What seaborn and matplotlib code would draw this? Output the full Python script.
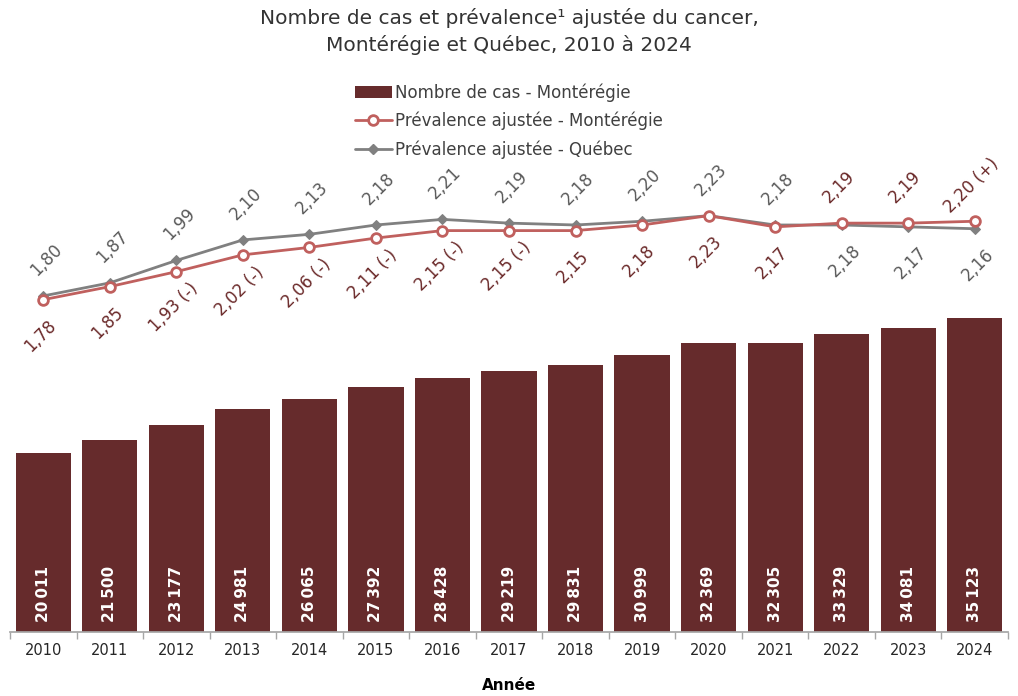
import numpy as np
import pandas as pd
import matplotlib.pyplot as plt
import seaborn as sns
from matplotlib.patches import Patch
from matplotlib.lines import Line2D

# data
annees = ["2010", "2011", "2012", "2013", "2014", "2015", "2016", "2017",
          "2018", "2019", "2020", "2021", "2022", "2023", "2024"]
nb_cas = [20011, 21500, 23177, 24981, 26065, 27392, 28428, 29219,
          29831, 30999, 32369, 32305, 33329, 34081, 35123]
prev_monteregie = [1.78, 1.85, 1.93, 2.02, 2.06, 2.11, 2.15, 2.15,
                   2.15, 2.18, 2.23, 2.17, 2.19, 2.19, 2.20]
signif_monteregie = ["", "", " (-)", " (-)", " (-)", " (-)", " (-)", " (-)",
                     "", "", "", "", "", "", " (+)"]
prev_quebec = [1.80, 1.87, 1.99, 2.10, 2.13, 2.18, 2.21, 2.19,
               2.18, 2.20, 2.23, 2.18, 2.18, 2.17, 2.16]

df = pd.DataFrame({"annee": annees, "cas": nb_cas,
                   "mont": prev_monteregie, "qc": prev_quebec})
df["pos"] = np.arange(len(df))

bar_color = "#662B2C"
mont_color = "#C0605E"
mont_text = "#6B2A2A"
qc_color = "#808080"
qc_text = "#5A5A5A"

sns.set_theme(style="white")
plt.rcParams["font.family"] = ["DejaVu Sans"]

fig = plt.figure(figsize=(10.18, 6.96), dpi=100)
W, H = 1018, 696
ax = fig.add_axes([10 / W, (H - 632) / H, 998 / W, (632 - 40) / H])

sns.barplot(data=df, x="annee", y="cas", color=bar_color, width=0.83,
            saturation=1, ax=ax, edgecolor="none")
ax.set_xlim(-0.5, len(df) - 0.5)
ax.set_ylim(0, 592 / 0.008934)

def fmt_int(v):
    return f"{v:,}".replace(",", "\u2009")

for i, v in enumerate(nb_cas):
    ax.annotate(fmt_int(v), xy=(i, 0), xytext=(0, 7), textcoords="offset points",
                rotation=90, ha="center", va="bottom", color="white",
                fontsize=11, fontweight="bold")

ax2 = ax.twinx()
ax2.set_ylim(0, 592 / 186.7)
sns.lineplot(data=df, x="pos", y="qc", color=qc_color, marker="D",
             markersize=5, markeredgecolor=qc_color, linewidth=2, ax=ax2)
sns.lineplot(data=df, x="pos", y="mont", color=mont_color, marker="o",
             markersize=7, markerfacecolor="white", markeredgecolor=mont_color,
             markeredgewidth=2, linewidth=2, ax=ax2)
ax2.set_xlim(-0.5, len(df) - 0.5)

def fmt_dec(v):
    return f"{v:.2f}".replace(".", ",")

off = 26
for i in range(len(df)):
    q, m = prev_quebec[i], prev_monteregie[i]
    if m > q:
        m_dy, q_dy = off, -off
    else:
        m_dy, q_dy = -off, off
    ax2.annotate(fmt_dec(q), xy=(i, q), xytext=(2, q_dy), textcoords="offset points",
                 rotation=45, rotation_mode="anchor", ha="center", va="center",
                 color=qc_text, fontsize=12)
    ax2.annotate(fmt_dec(m) + signif_monteregie[i], xy=(i, m), xytext=(-2, m_dy),
                 textcoords="offset points", rotation=45, rotation_mode="anchor",
                 ha="center", va="center", color=mont_text, fontsize=12)

for a in (ax, ax2):
    a.set_yticks([])
    a.set_ylabel("")
    for s in ["top", "right", "left"]:
        a.spines[s].set_visible(False)
ax2.spines["bottom"].set_visible(False)
ax2.set_xlabel("")
ax.spines["bottom"].set_color("#A6A6A6")

ax.set_xticks(np.arange(len(df)))
ax.set_xticklabels(annees, fontsize=10.5, color="#262626")
ax.set_xticks(np.arange(len(df) + 1) - 0.5, minor=True)
ax.tick_params(axis="x", which="major", length=0, pad=8)
ax.tick_params(axis="x", which="minor", length=5, color="#A6A6A6",
               direction="out", bottom=True)
ax.set_xlabel("Année", fontsize=11, fontweight="bold", color="black", labelpad=14)

fig.text(0.5, 1 - 18 / H, "Nombre de cas et prévalence\u00b9 ajustée du cancer,",
         ha="center", va="center", fontsize=14.5, color="#333333")
fig.text(0.5, 1 - 45 / H, "Montérégie et Québec, 2010 à 2024",
         ha="center", va="center", fontsize=14.5, color="#333333")

handles = [
    Patch(facecolor=bar_color, edgecolor="none"),
    Line2D([], [], color=mont_color, lw=2, marker="o", markersize=7,
           markerfacecolor="white", markeredgecolor=mont_color, markeredgewidth=2),
    Line2D([], [], color=qc_color, lw=2, marker="D", markersize=5),
]
labels = ["Nombre de cas - Montérégie", "Prévalence ajustée - Montérégie",
          "Prévalence ajustée - Québec"]
leg = fig.legend(handles, labels, loc="upper center", bbox_to_anchor=(0.5, 1 - 68 / H),
                 frameon=False, fontsize=12, labelspacing=0.6, handlelength=2.2,
                 handletextpad=0.2, labelcolor="#404040")

fig.savefig("out.png", dpi=100)
